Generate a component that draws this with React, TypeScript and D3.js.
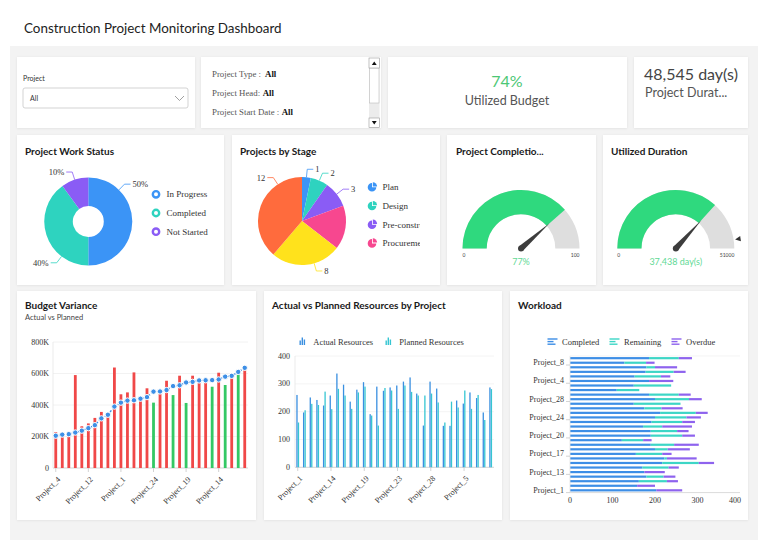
import { useEffect, useRef } from 'react'
import * as d3 from 'd3'

const SANS = 'Lato, "Open Sans", "DejaVu Sans", sans-serif'
const SERIF = '"Liberation Serif", "Times New Roman", serif'

// Filters panel
const filterFields = ['Project Type :', 'Project Head:', 'Project Start Date :', 'Project Finish Date :']
const filterValues = ['All', 'All', 'All', 'All']

// KPI cards
const utilizedBudgetPct = 74
const projectDays = 48545

// Project Work Status
const statusNames = ['In Progress', 'Completed', 'Not Started']
const statusShares = [50, 40, 10]
const statusColors = ['#3b94f6', '#2ed3bf', '#8a5cf5']

// Projects by Stage
const stageNames = ['Plan', 'Design', 'Pre-construction', 'Procurement', 'Construction', 'Closeout']
const stageCounts = [1, 2, 3, 5, 8, 12]
const stageColors = ['#3b94f6', '#2ed3bf', '#8a5cf5', '#f7478f', '#ffe21c', '#ff6b3d']
const stageLegendCount = 4

// Gauges
const completionPct = 77
const utilizedDays = 37438
const durationMax = 51000

// Budget Variance (K), ordered by planned cost
const budgetProjects = [
  'Project_4', 'Project_9', 'Project_27', 'Project_6', 'Project_21',
  'Project_12', 'Project_30', 'Project_3', 'Project_16', 'Project_25',
  'Project_1', 'Project_8', 'Project_22', 'Project_11', 'Project_29',
  'Project_24', 'Project_7', 'Project_18', 'Project_2', 'Project_26',
  'Project_19', 'Project_13', 'Project_5', 'Project_28', 'Project_17',
  'Project_14', 'Project_10', 'Project_23', 'Project_20', 'Project_15',
]
const plannedCost = [
  205, 212, 215, 225, 237, 253, 272, 315, 338, 390,
  415, 428, 430, 440, 450, 485, 486, 495, 520, 525,
  543, 547, 556, 557, 558, 562, 580, 585, 610, 636,
]
const actualCost = [
  228, 215, 218, 590, 265, 283, 318, 356, 341, 638,
  468, 480, 607, 443, 506, 415, 489, 554, 463, 586,
  413, 586, 559, 560, 516, 605, 527, 588, 595, 639,
]
const budgetTicks = [0, 200, 400, 600, 800]

// Resources / workload projects (alphabetical)
const projects = [
  'Project_1', 'Project_10', 'Project_11', 'Project_12', 'Project_13', 'Project_14',
  'Project_15', 'Project_16', 'Project_17', 'Project_18', 'Project_19', 'Project_2',
  'Project_20', 'Project_21', 'Project_22', 'Project_23', 'Project_24', 'Project_25',
  'Project_26', 'Project_27', 'Project_28', 'Project_29', 'Project_3', 'Project_30',
  'Project_4', 'Project_5', 'Project_6', 'Project_7', 'Project_8', 'Project_9',
]
const actualResources = [
  260, 197, 251, 242, 222, 258, 337, 297, 236, 279, 306, 191, 290, 275, 287,
  294, 308, 323, 265, 150, 308, 283, 149, 149, 240, 229, 269, 249, 197, 287,
]
const plannedResources = [
  161, 205, 228, 224, 272, 209, 282, 258, 210, 269, 290, 186, 150, 285, 276,
  210, 294, 271, 258, 258, 265, 233, 161, 236, 215, 276, 210, 260, 170, 281,
]
const resourceTicks = [0, 100, 200, 300, 400]

// Workload
const completedTasks = [
  203, 158, 162, 180, 175, 170, 217, 222, 155, 200, 190, 122, 190, 190, 172,
  192, 200, 212, 175, 150, 200, 186, 110, 150, 186, 152, 178, 180, 128, 186,
]
const remainingTasks = [
  0, 0, 66, 40, 0, 62, 86, 6, 62, 30, 55, 50, 74, 62, 45,
  72, 74, 84, 40, 110, 80, 70, 53, 88, 0, 62, 66, 20, 51, 70,
]
const overdueTasks = [
  61, 42, 26, 28, 48, 24, 36, 70, 22, 52, 58, 20, 30, 27, 70,
  30, 34, 28, 50, 0, 30, 28, 0, 0, 57, 22, 28, 52, 20, 31,
]
const workloadKeys = ['Completed', 'Remaining', 'Overdue']
const workloadColors = ['#3d8ee6', '#3dd6c6', '#8e63ee']
const workloadTicks = [0, 100, 200, 300, 400]

const txt = (parent: any, x: number, y: number, s: string, o: any = {}) =>
  parent
    .append('text')
    .attr('x', x)
    .attr('y', y)
    .attr('font-family', o.family || SANS)
    .attr('font-size', o.size || 9)
    .attr('font-weight', o.weight || 400)
    .attr('fill', o.fill || '#333')
    .attr('text-anchor', o.anchor || 'start')
    .attr('dominant-baseline', 'central')
    .text(s)

export default function App() {
  const svgRef = useRef<SVGSVGElement>(null)

  useEffect(() => {
    if (!svgRef.current) return
    const svg = d3.select(svgRef.current)
    svg.selectAll('*').remove()

    const defs = svg.append('defs')
    defs
      .append('filter')
      .attr('id', 'card-shadow')
      .attr('x', '-5%')
      .attr('y', '-5%')
      .attr('width', '110%')
      .attr('height', '110%')
      .append('feDropShadow')
      .attr('dx', 0)
      .attr('dy', 0.5)
      .attr('stdDeviation', 1)
      .attr('flood-color', '#000')
      .attr('flood-opacity', 0.08)

    svg.append('rect').attr('width', 768).attr('height', 548).attr('fill', '#fff')
    txt(svg, 24, 28, 'Construction Project Monitoring Dashboard', { size: 13.4, fill: '#222' })
    svg.append('rect').attr('x', 10).attr('y', 46).attr('width', 748).attr('height', 494).attr('fill', '#f3f3f3')

    // cards
    const cards = [
      [17, 57, 178, 71], [201, 57, 180, 71], [388, 57, 239, 71], [634, 57, 114, 71],
      [17, 135, 207, 150], [232, 135, 208, 150], [447, 135, 149, 150], [603, 135, 145, 150],
      [17, 291, 239, 229], [264, 291, 238, 229], [510, 291, 238, 229],
    ]
    svg
      .selectAll('rect.card')
      .data(cards)
      .join('rect')
      .attr('class', 'card')
      .attr('x', (d) => d[0])
      .attr('y', (d) => d[1])
      .attr('width', (d) => d[2])
      .attr('height', (d) => d[3])
      .attr('fill', '#fff')
      .attr('filter', 'url(#card-shadow)')

    const title = (x: number, y: number, s: string) =>
      txt(svg, x, y, s, { size: 10, weight: 700, fill: '#1a1a1a' })

    // --- Project dropdown
    txt(svg, 23, 78, 'Project', { size: 7, fill: '#333' })
    svg.append('rect').attr('x', 23).attr('y', 88).attr('width', 165).attr('height', 20).attr('rx', 2)
      .attr('fill', '#fff').attr('stroke', '#c8c8c8').attr('stroke-width', 0.8)
    txt(svg, 30, 98, 'All', { size: 7, fill: '#333' })
    svg.append('path').attr('d', d3.line()([[175, 96], [179.5, 100.5], [184, 96]]))
      .attr('fill', 'none').attr('stroke', '#888').attr('stroke-width', 0.8)

    // --- Filter list
    defs.append('clipPath').attr('id', 'filter-clip')
      .append('rect').attr('x', 201).attr('y', 57).attr('width', 167).attr('height', 70)
    const fg = svg.append('g').attr('clip-path', 'url(#filter-clip)')
    filterFields.forEach((f, i) => {
      const t = fg.append('text').attr('x', 212).attr('y', 74 + i * 19)
        .attr('font-family', SERIF).attr('font-size', 8.8).attr('dominant-baseline', 'central')
      t.append('tspan').attr('fill', '#555').text(f)
      t.append('tspan').attr('dx', i === 0 ? 4 : 2.5).attr('font-weight', 700).attr('fill', '#111').text(filterValues[i])
    })
    const sb = svg.append('g')
    sb.append('rect').attr('x', 369).attr('y', 58).attr('width', 10.5).attr('height', 70).attr('fill', '#ececec')
    sb.append('rect').attr('x', 369.5).attr('y', 68).attr('width', 9.5).attr('height', 35).attr('fill', '#fff').attr('stroke', '#bbb').attr('stroke-width', 0.6)
    sb.append('rect').attr('x', 369).attr('y', 58).attr('width', 10.5).attr('height', 10).attr('fill', '#fff').attr('stroke', '#999').attr('stroke-width', 0.6)
    sb.append('rect').attr('x', 369).attr('y', 118).attr('width', 10.5).attr('height', 9.5).attr('fill', '#fff').attr('stroke', '#999').attr('stroke-width', 0.6)
    sb.append('path').attr('d', 'M371.8,65L374.25,61.5L376.7,65Z').attr('fill', '#111')
    sb.append('path').attr('d', 'M371.8,121L374.25,124.5L376.7,121Z').attr('fill', '#111')

    // --- KPI cards
    txt(svg, 507, 80, `${utilizedBudgetPct}%`, { size: 16, fill: '#4cc775', anchor: 'middle' })
    txt(svg, 507, 100, 'Utilized Budget', { size: 12.5, fill: '#555', anchor: 'middle' })
    txt(svg, 644, 73, `${d3.format(',')(projectDays)} day(s)`, { size: 16, fill: '#444' })
    txt(svg, 645, 92, 'Project Durat...', { size: 12.5, fill: '#555' })

    // --- Project Work Status (donut)
    title(25, 151, 'Project Work Status')
    const pie = d3.pie<number>().value((d) => d).sort(null)
    const statusArcs = pie(statusShares)
    const statusR = 44
    const donutArc = d3.arc<d3.PieArcDatum<number>>().innerRadius(15.5).outerRadius(statusR)
    const dg = svg.append('g').attr('transform', 'translate(88.3,221.5)')
    dg.selectAll('path').data(statusArcs).join('path')
      .attr('d', donutArc).attr('fill', (_d, i) => statusColors[i])

    const drawLeader = (g: any, d: any, frac: number, r: number, color: string, label: string) => {
      const a = d.startAngle + (d.endAngle - d.startAngle) * frac
      const pt = (rr: number): [number, number] => [Math.sin(a) * rr, -Math.cos(a) * rr]
      const p0 = pt(r)
      const p1 = pt(r + 8)
      const dir = Math.sin(a) >= 0 ? 1 : -1
      const p2: [number, number] = [p1[0] + dir * 6, p1[1]]
      g.append('path').attr('d', d3.line()([p0, p1, p2]))
        .attr('fill', 'none').attr('stroke', color).attr('stroke-width', 0.8)
      txt(g, p2[0] + dir * 2, p2[1], label, { family: SERIF, size: 8.5, fill: '#333', anchor: dir > 0 ? 'start' : 'end' })
    }
    const statusLabelAt = [0.245, 0.26, 0.5]
    statusArcs.forEach((d, i) => drawLeader(dg, d, statusLabelAt[i], statusR, statusColors[i], `${statusShares[i]}%`))

    statusNames.forEach((n, i) => {
      const y = 194.3 + i * 18.7
      svg.append('circle').attr('cx', 156).attr('cy', y).attr('r', 3.2)
        .attr('fill', '#fff').attr('stroke', statusColors[i]).attr('stroke-width', 2.4)
      txt(svg, 166.5, y, n, { family: SERIF, size: 9, fill: '#333' })
    })

    // --- Projects by Stage (pie)
    title(240, 151, 'Projects by Stage')
    const stageArcs = pie(stageCounts)
    const stageR = 44
    const pieArc = d3.arc<d3.PieArcDatum<number>>().innerRadius(0).outerRadius(stageR)
    const pg = svg.append('g').attr('transform', 'translate(302,221)')
    pg.selectAll('path').data(stageArcs).join('path')
      .attr('d', pieArc).attr('fill', (_d, i) => stageColors[i])
    const stageLabelAt = [0.5, 0.5, 0.5, -1, 0.39, 0.76]
    stageArcs.forEach((d, i) => {
      if (stageLabelAt[i] < 0) return
      drawLeader(pg, d, stageLabelAt[i], stageR, stageColors[i], `${stageCounts[i]}`)
    })
    defs.append('clipPath').attr('id', 'stage-legend-clip')
      .append('rect').attr('x', 360).attr('y', 170).attr('width', 60).attr('height', 85)
    const lg = svg.append('g').attr('clip-path', 'url(#stage-legend-clip)')
    const iconArc = d3.arc().innerRadius(0).outerRadius(4.3)
    stageNames.slice(0, stageLegendCount).forEach((n, i) => {
      const y = 187.3 + i * 18.7
      lg.append('path').attr('transform', `translate(372,${y})`)
        .attr('d', iconArc({ startAngle: Math.PI * 0.5, endAngle: Math.PI * 2 } as any) as string)
        .attr('fill', stageColors[i])
      lg.append('path').attr('transform', `translate(${372.8},${y - 0.8})`)
        .attr('d', iconArc({ startAngle: 0, endAngle: Math.PI * 0.5 } as any) as string)
        .attr('fill', stageColors[i])
      txt(lg, 382.5, y, n, { family: SERIF, size: 9, fill: '#333' })
    })

    // --- Gauges
    const gaugeArc = d3.arc().innerRadius(34.3).outerRadius(58.5)
    const drawGauge = (cx: number, cy: number, value: number, max: number, valueText: string, marker?: number) => {
      const g = svg.append('g').attr('transform', `translate(${cx},${cy})`)
      const ang = d3.scaleLinear().domain([0, max]).range([-Math.PI / 2, Math.PI / 2])
      g.append('path').attr('d', gaugeArc({ startAngle: -Math.PI / 2, endAngle: Math.PI / 2 } as any) as string).attr('fill', '#dedede')
      g.append('path').attr('d', gaugeArc({ startAngle: -Math.PI / 2, endAngle: ang(value) } as any) as string).attr('fill', '#2fd97e')
      const a = ang(value)
      const L = 38
      const w = 3
      const tip: [number, number] = [Math.sin(a) * L, -Math.cos(a) * L]
      const bl: [number, number] = [Math.cos(a) * w, Math.sin(a) * w]
      const br: [number, number] = [-Math.cos(a) * w, -Math.sin(a) * w]
      g.append('path').attr('d', d3.line()([bl, tip, br]) + 'Z').attr('fill', '#3d3d3d')
      g.append('circle').attr('r', w).attr('fill', '#3d3d3d')
      if (marker !== undefined) {
        const m = ang(marker)
        const p = (r: number, off: number): [number, number] => [
          Math.sin(m) * r + Math.cos(m) * off,
          -Math.cos(m) * r + Math.sin(m) * off,
        ]
        g.append('path').attr('d', d3.line()([p(60, 0), p(65.5, -2.6), p(65.5, 2.6)]) + 'Z').attr('fill', '#333')
      }
      txt(g, -58.5, 6, '0', { size: 5, fill: '#444' })
      txt(g, 58.5, 6, `${max}`, { size: 5, fill: '#444', anchor: 'end' })
      txt(g, 0, 13, valueText, { size: 9, fill: '#5fd995', anchor: 'middle' })
    }
    title(456, 151, 'Project Completio...')
    drawGauge(521, 248.5, completionPct, 100, `${completionPct}%`)
    title(611, 151, 'Utilized Duration')
    drawGauge(675.8, 248.5, utilizedDays, durationMax, `${d3.format(',')(utilizedDays)} day(s)`, projectDays)

    // --- Budget Variance
    title(25, 305, 'Budget Variance')
    txt(svg, 25, 317, 'Actual vs Planned', { size: 7.5, fill: '#444' })
    const bx = d3.scaleBand<string>().domain(budgetProjects).range([52.5, 248])
    const by = d3.scaleLinear().domain([0, 800]).range([468, 342])
    const bcx = (p: string) => (bx(p) as number) + bx.bandwidth() / 2
    const bg = svg.append('g')
    bg.selectAll('line.grid').data(budgetTicks).join('line')
      .attr('x1', 53).attr('x2', 248).attr('y1', (d) => by(d)).attr('y2', (d) => by(d))
      .attr('stroke', (d) => (d === 0 ? '#c8c8c8' : '#efefef')).attr('stroke-width', 0.8)
    bg.append('line').attr('x1', 53).attr('x2', 53).attr('y1', 342).attr('y2', 468).attr('stroke', '#e6e6e6').attr('stroke-width', 0.8)
    budgetTicks.forEach((t) => txt(bg, 49, by(t), t === 0 ? '0' : `${t}K`, { family: SERIF, size: 8, anchor: 'end', fill: '#333' }))
    bg.selectAll('rect.bar').data(budgetProjects).join('rect')
      .attr('x', (p) => bcx(p) - 1.4).attr('width', 2.8)
      .attr('y', (_p, i) => by(actualCost[i])).attr('height', (_p, i) => by(0) - by(actualCost[i]))
      .attr('fill', (_p, i) => (actualCost[i] >= plannedCost[i] ? '#f04848' : '#34c864'))
    const plannedLine = d3.line<string>().x((p) => bcx(p)).y((_p, i) => by(plannedCost[i]))
    bg.append('path').attr('d', plannedLine(budgetProjects))
      .attr('fill', 'none').attr('stroke', '#3d8fe6').attr('stroke-width', 1.4).attr('stroke-dasharray', '2,1.6')
    bg.selectAll('circle').data(budgetProjects).join('circle')
      .attr('cx', (p) => bcx(p)).attr('cy', (_p, i) => by(plannedCost[i])).attr('r', 2.7)
      .attr('fill', '#3d8fe6').attr('stroke', '#fff').attr('stroke-width', 1)
    budgetProjects.forEach((p, i) => {
      if (i % 5 !== 0) return
      bg.append('line').attr('x1', bcx(p)).attr('x2', bcx(p)).attr('y1', 468).attr('y2', 472).attr('stroke', '#c8c8c8').attr('stroke-width', 0.8)
      bg.append('text').attr('transform', `translate(${bcx(p) + 5},${480}) rotate(-45)`)
        .attr('text-anchor', 'end').attr('font-family', SERIF).attr('font-size', 8).attr('fill', '#333').text(p)
    })

    // --- Actual vs Planned Resources
    title(272, 305, 'Actual vs Planned Resources by Project')
    const rx = d3.scaleBand<string>().domain(projects).range([294.4, 494])
    const ry = d3.scaleLinear().domain([0, 400]).range([467.3, 356])
    const rcx = (p: string) => (rx(p) as number) + rx.bandwidth() / 2
    const rg = svg.append('g')
    rg.selectAll('line.grid').data(resourceTicks).join('line')
      .attr('x1', 295).attr('x2', 494).attr('y1', (d) => ry(d)).attr('y2', (d) => ry(d))
      .attr('stroke', (d) => (d === 0 ? '#c8c8c8' : '#f1f1f1')).attr('stroke-width', 0.8)
    rg.append('line').attr('x1', 295).attr('x2', 295).attr('y1', 356).attr('y2', 467.3).attr('stroke', '#e6e6e6').attr('stroke-width', 0.8)
    resourceTicks.forEach((t) => txt(rg, 290, ry(t), `${t}`, { family: SERIF, size: 8, anchor: 'end', fill: '#333' }))
    const resourceSeries = [actualResources, plannedResources]
    const resourceColors = ['#3a8fe0', '#36c6d2']
    resourceSeries.forEach((vals, k) => {
      rg.append('g').selectAll('rect').data(projects).join('rect')
        .attr('x', (p) => rcx(p) - 1.4 + k * 1.5).attr('width', 1.3)
        .attr('y', (_p, i) => ry(vals[i])).attr('height', (_p, i) => ry(0) - ry(vals[i]))
        .attr('fill', resourceColors[k])
    })
    projects.forEach((p, i) => {
      if (i % 5 !== 0) return
      rg.append('line').attr('x1', rcx(p)).attr('x2', rcx(p)).attr('y1', 467.3).attr('y2', 471).attr('stroke', '#c8c8c8').attr('stroke-width', 0.8)
      rg.append('text').attr('transform', `translate(${rcx(p) + 5},${479}) rotate(-45)`)
        .attr('text-anchor', 'end').attr('font-family', SERIF).attr('font-size', 8).attr('fill', '#333').text(p)
    })
    const resourceLegend = ['Actual Resources', 'Planned Resources']
    const resourceLegendX = [299.5, 385.5]
    resourceLegend.forEach((n, k) => {
      const x0 = resourceLegendX[k]
      ;[4.5, 7.5, 5.5].forEach((h, j) => {
        rg.append('rect').attr('x', x0 + j * 2.1).attr('y', 345 - h).attr('width', 1.4).attr('height', h).attr('fill', resourceColors[k])
      })
      txt(rg, x0 + 13.8, 342, n, { family: SERIF, size: 8.5, fill: '#333' })
    })

    // --- Workload
    title(518, 305, 'Workload')
    const wy = d3.scaleBand<string>().domain(projects).range([492.6, 355.9])
    const wx = d3.scaleLinear().domain([0, 400]).range([570, 740])
    const wg = svg.append('g')
    const workRows = projects.map((p, i) => ({
      project: p,
      Completed: completedTasks[i],
      Remaining: remainingTasks[i],
      Overdue: overdueTasks[i],
    }))
    const layers = d3.stack<any>().keys(workloadKeys)(workRows)
    layers.forEach((layer, k) => {
      wg.append('g').selectAll('rect').data(layer).join('rect')
        .attr('x', (d: any) => wx(d[0])).attr('width', (d: any) => Math.max(0, wx(d[1]) - wx(d[0])))
        .attr('y', (d: any) => (wy(d.data.project) as number) + wy.bandwidth() / 2 - 1.1).attr('height', 2.2)
        .attr('fill', workloadColors[k])
    })
    wg.append('line').attr('x1', 570).attr('x2', 740).attr('y1', 492.6).attr('y2', 492.6).attr('stroke', '#d0d0d0').attr('stroke-width', 0.8)
    wg.append('line').attr('x1', 570).attr('x2', 570).attr('y1', 355.9).attr('y2', 492.6).attr('stroke', '#e2e2e2').attr('stroke-width', 0.8)
    wg.append('line').attr('x1', 570).attr('x2', 740).attr('y1', 355.9).attr('y2', 355.9).attr('stroke', '#f1f1f1').attr('stroke-width', 0.8)
    workloadTicks.forEach((t, i) =>
      txt(wg, i === workloadTicks.length - 1 ? wx(t) + 1 : wx(t), 500, `${t}`, {
        family: SERIF, size: 8, fill: '#333', anchor: i === workloadTicks.length - 1 ? 'end' : 'middle',
      }),
    )
    projects.forEach((p, i) => {
      if (i % 4 !== 0) return
      const cy = (wy(p) as number) + wy.bandwidth() / 2
      txt(wg, 564, cy, p, { family: SERIF, size: 8, fill: '#333', anchor: 'end' })
      wg.append('line').attr('x1', 566).attr('x2', 570).attr('y1', cy + 2.3).attr('y2', cy + 2.3).attr('stroke', '#c8c8c8').attr('stroke-width', 0.8)
    })
    const workLegendX = [547.5, 609.5, 671.5]
    workloadKeys.forEach((n, k) => {
      const x0 = workLegendX[k]
      ;[10, 6, 8].forEach((w, j) => {
        wg.append('rect').attr('x', x0).attr('y', 338.3 + j * 2.6).attr('width', w).attr('height', 1.4).attr('fill', workloadColors[k])
      })
      txt(wg, x0 + 14.5, 342, n, { family: SERIF, size: 8.5, fill: '#333' })
    })
  }, [])

  return (
    <svg
      ref={svgRef}
      width={768}
      height={548}
      style={{ position: 'absolute', left: 0, top: 0, display: 'block' }}
    />
  )
}
